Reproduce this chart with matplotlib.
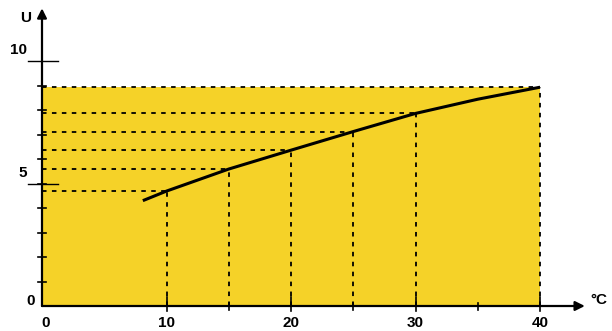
import matplotlib
matplotlib.use("Agg")
import matplotlib.pyplot as plt

# curve U(T)
temp = [8.1, 10, 15, 20, 25, 30, 35, 40]
volt = [4.30, 4.69, 5.59, 6.36, 7.12, 7.86, 8.44, 8.93]

# guide lines (temperature, voltage) dropped from the curve
guide_t = [10, 15, 20, 25, 30, 40]
guide_u = [4.69, 5.59, 6.36, 7.12, 7.86, 8.93]

x_labels = [0, 10, 20, 30, 40]
y_labels = [0, 5, 10]

yellow = '#F5D228'
font = ['Liberation Sans Narrow', 'Liberation Sans', 'DejaVu Sans']

fig = plt.figure(figsize=(6.12, 3.31), dpi=100)
ax = fig.add_axes([0, 0, 1, 1])
ax.set_xlim(-42 / 12.45, (612 - 42) / 12.45)
ax.set_ylim(-25 / 24.5, 306 / 24.5)
ax.axis('off')

# yellow panel
ax.fill_between([0, 40], 0, 8.95, color=yellow, lw=0, zorder=0)

# dashed guides
for t, u in zip(guide_t, guide_u):
    ax.plot([0, t], [u, u], color='black', lw=1.3, ls=(0, (2.5, 3)), zorder=2)
    ax.plot([t, t], [0, u], color='black', lw=1.3, ls=(0, (2.5, 3)), zorder=2)

# curve
ax.plot(temp, volt, color='black', lw=2.2, solid_capstyle='butt', zorder=3)

# axes with arrows
ax.annotate('', xy=(43.6, 0), xytext=(0, 0),
            arrowprops=dict(arrowstyle='-|>', color='black', lw=1.6,
                            mutation_scale=14, shrinkA=0, shrinkB=0), zorder=4)
ax.annotate('', xy=(0, 12.15), xytext=(0, 0),
            arrowprops=dict(arrowstyle='-|>', color='black', lw=1.6,
                            mutation_scale=14, shrinkA=0, shrinkB=0), zorder=4)

# y ticks
for v in range(1, 10):
    ax.plot([-0.3, 0.35], [v, v], color='black', lw=1.2, zorder=4)
for v in [5, 10]:
    ax.plot([-1.15, 1.25], [v, v], color='black', lw=1.0, zorder=4)

# x ticks
for t in [10, 20, 30, 40]:
    ax.plot([t, t], [-0.2, 0.37], color='black', lw=1.2, zorder=4)
for t in [15, 25, 35]:
    ax.plot([t, t], [-0.16, 0.12], color='black', lw=1.2, zorder=4)

# labels
for v in y_labels:
    ax.text(-1.2 if v else -0.6, v + (0.15 if v else 0.2), str(v), ha='right', va='bottom' if v else 'center',
            fontsize=11, fontweight='bold', family=font)
for t in x_labels:
    ax.text(t + (0.3 if t == 0 else 0), -0.42, str(t), ha='center', va='top',
            fontsize=11, fontweight='bold', family=font)
ax.text(-1.35, 11.75, 'U', ha='center', va='center',
        fontsize=11, fontweight='bold', family=font)
ax.text(44.7, 0.25, '°C', ha='center', va='center',
        fontsize=11, fontweight='bold', family=font)

fig.savefig('out.png', dpi=100)
